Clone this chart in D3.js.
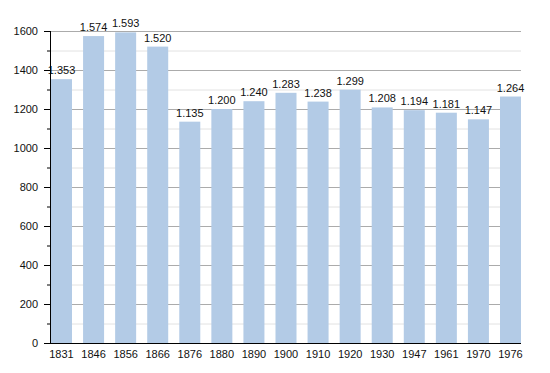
<!DOCTYPE html>
<html>
<head>
<meta charset="utf-8">
<script src="https://cdn.jsdelivr.net/npm/d3@7"></script>
<style>
  body { margin: 0; background: #fff; }
  text { font-family: "Liberation Sans", Arial, sans-serif; fill: #111; }
</style>
</head>
<body>
<script>
// population by census year
const years = ["1831","1846","1856","1866","1876","1880","1890","1900","1910","1920","1930","1947","1961","1970","1976"];
const population = [1353,1574,1593,1520,1135,1200,1240,1283,1238,1299,1208,1194,1181,1147,1264];
const majorTicks = [0,200,400,600,800,1000,1200,1400,1600];
const minorTicks = [100,300,500,700,900,1100,1300,1500];

const width = 550, height = 373;
const mLeft = 50, mRight = 521, mTop = 31, mBottom = 343;

const svg = d3.select("body").append("svg")
  .attr("width", width).attr("height", height);

const y = d3.scaleLinear().domain([0, 1600]).range([mBottom, mTop]);
const x = d3.scaleBand().domain(years).range([mLeft + 1, mRight]).paddingInner(0.345).paddingOuter(0);

const fmt = d3.formatLocale({decimal: ",", thousands: ".", grouping: [3], currency: ["", ""]}).format(",");

// grid
svg.append("g").selectAll("line").data(minorTicks).join("line")
  .attr("x1", mLeft).attr("x2", mRight)
  .attr("y1", d => y(d) + 0.5).attr("y2", d => y(d) + 0.5)
  .attr("stroke", "#e2e2e2");
svg.append("g").selectAll("line").data(majorTicks.slice(1)).join("line")
  .attr("x1", mLeft).attr("x2", mRight)
  .attr("y1", d => y(d) + 0.5).attr("y2", d => y(d) + 0.5)
  .attr("stroke", "#ababab");

// bars
svg.append("g").selectAll("rect").data(population).join("rect")
  .attr("x", (d, i) => x(years[i]))
  .attr("width", x.bandwidth())
  .attr("y", d => y(d))
  .attr("height", d => mBottom - y(d))
  .attr("fill", "#b3cbe6");

svg.append("g").selectAll("text").data(population).join("text")
  .attr("x", (d, i) => x(years[i]) + x.bandwidth() / 2)
  .attr("y", d => y(d) - 5)
  .attr("text-anchor", "middle")
  .attr("font-size", 11)
  .text(d => fmt(d));

// y axis
svg.append("g").selectAll("line").data(minorTicks).join("line")
  .attr("x1", mLeft - 3).attr("x2", mLeft)
  .attr("y1", d => y(d) + 0.5).attr("y2", d => y(d) + 0.5)
  .attr("stroke", "#000");
svg.append("g").selectAll("line").data(majorTicks).join("line")
  .attr("x1", mLeft - 6).attr("x2", mLeft)
  .attr("y1", d => y(d) + 0.5).attr("y2", d => y(d) + 0.5)
  .attr("stroke", "#000");
svg.append("g").selectAll("text").data(majorTicks).join("text")
  .attr("x", mLeft - 12)
  .attr("y", d => y(d) + 4)
  .attr("text-anchor", "end")
  .attr("font-size", 11)
  .text(d => d);

svg.append("line")
  .attr("x1", mLeft + 0.5).attr("x2", mLeft + 0.5)
  .attr("y1", mTop).attr("y2", mBottom + 1)
  .attr("stroke", "#000");
svg.append("line")
  .attr("x1", mLeft).attr("x2", mRight)
  .attr("y1", mBottom + 0.5).attr("y2", mBottom + 0.5)
  .attr("stroke", "#000");

// x labels
svg.append("g").selectAll("text").data(years).join("text")
  .attr("x", d => x(d) + x.bandwidth() / 2)
  .attr("y", mBottom + 15)
  .attr("text-anchor", "middle")
  .attr("font-size", 11)
  .text(d => d);
</script>
</body>
</html>
